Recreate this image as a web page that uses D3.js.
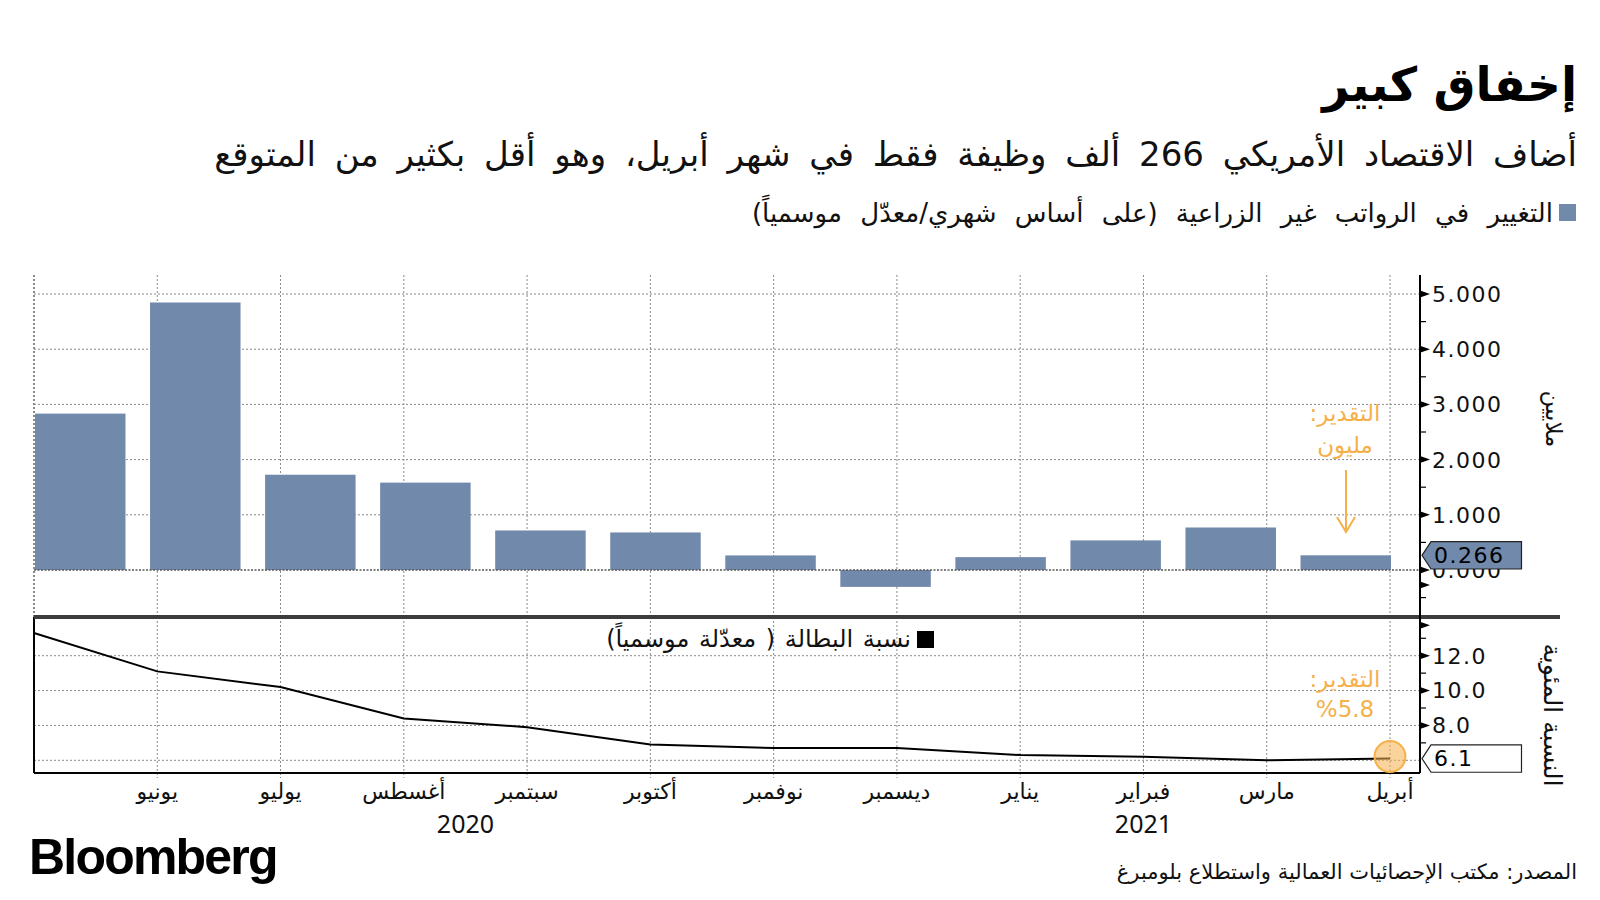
<!DOCTYPE html>
<html><head><meta charset="utf-8">
<script src="https://cdn.jsdelivr.net/npm/d3@7"></script>
<style>
body{margin:0;background:#fff}
svg{display:block}
.ar{font-family:"DejaVu Sans",sans-serif;direction:rtl;unicode-bidi:embed}
.num{font-family:"DejaVu Sans",sans-serif}
</style>
</head><body>
<svg id="c" width="1600" height="900"></svg>
<script>
// ---- data ----
const months = ["مايو","يونيو","يوليو","أغسطس","سبتمبر","أكتوبر","نوفمبر","ديسمبر","يناير","فبراير","مارس","أبريل"];
const monthLabels = ["","يونيو","يوليو","أغسطس","سبتمبر","أكتوبر","نوفمبر","ديسمبر","يناير","فبراير","مارس","أبريل"];
const payrolls = [2833, 4846, 1726, 1583, 716, 680, 264, -306, 233, 536, 770, 266]; // thousands
const unemployment = [13.3, 11.1, 10.2, 8.4, 7.9, 6.9, 6.7, 6.7, 6.3, 6.2, 6.0, 6.1];
const payrollTicks = [0, 1000, 2000, 3000, 4000, 5000];
const payrollMinorTicks = [-500, 500, 1500, 2500, 3500, 4500];
const payrollExtraMarks = [-270];
const rateTicks = [6, 8, 10, 12];
const rateMinorTicks = [7, 9, 11, 13];
const rateExtraMarks = [13.75];
const yearLabels = ["2020", "2021"];
const yearPositions = [3.5, 9];
const lastPayroll = 0.266;
const lastRate = 6.1;

const svg = d3.select("#c");
const left = 34, right = 1420;
const topY = 275, sepY = 617, botY = 773;

// scales
const xPt = d3.scalePoint().domain(months).range([34, 1390]);
const xIdx = d3.scaleLinear().domain([0, 11]).range([34, 1390]);
const xBand = d3.scaleBand().domain(months).range([35, 1391]).paddingInner(0.2135).paddingOuter(0);
const yTop = d3.scaleLinear().domain([0, 5000]).range([570, 294]);
const yBot = d3.scaleLinear().domain([6, 12]).range([760.3, 655.7]);

const orange = "#f5b04a";
const barColor = "#7189ab";

// ---- titles ----
svg.append("text").attr("class","ar").attr("x",1577).attr("y",101)
  .attr("text-anchor","start").attr("font-size",47).attr("font-weight","bold").attr("fill","#000")
  .text("إخفاق كبير");
svg.append("text").attr("class","ar").attr("x",1577).attr("y",166)
  .attr("text-anchor","start").attr("font-size",34).attr("word-spacing",8).attr("fill","#111")
  .text("أضاف الاقتصاد الأمريكي 266 ألف وظيفة فقط في شهر أبريل، وهو أقل بكثير من المتوقع");
svg.append("rect").attr("x",1559).attr("y",204).attr("width",17).attr("height",17).attr("fill",barColor);
svg.append("text").attr("class","ar").attr("x",1553).attr("y",222)
  .attr("text-anchor","start").attr("font-size",26).attr("word-spacing",10).attr("fill","#111")
  .text("التغيير في الرواتب غير الزراعية (على أساس شهري/معدّل موسمياً)");

// ---- gridlines ----
const grid = svg.append("g").attr("stroke","#8a8a8a").attr("stroke-width",1).attr("stroke-dasharray","2,2").attr("fill","none");
grid.selectAll("line.vt").data(months.slice(1)).join("line").attr("class","vt")
  .attr("x1",d=>xPt(d)).attr("x2",d=>xPt(d)).attr("y1",topY).attr("y2",sepY);
grid.selectAll("line.vb").data(months.slice(1)).join("line").attr("class","vb")
  .attr("x1",d=>xPt(d)).attr("x2",d=>xPt(d)).attr("y1",sepY).attr("y2",botY+5);
grid.selectAll("line.ht").data(payrollTicks.filter(d=>d!==0)).join("line").attr("class","ht")
  .attr("x1",left).attr("x2",right).attr("y1",d=>yTop(d)).attr("y2",d=>yTop(d));
grid.selectAll("line.hb").data(rateTicks).join("line").attr("class","hb")
  .attr("x1",left).attr("x2",right).attr("y1",d=>yBot(d)).attr("y2",d=>yBot(d));
svg.append("line").attr("x1",left).attr("x2",left).attr("y1",topY).attr("y2",sepY)
  .attr("stroke","#8a8a8a").attr("stroke-width",2).attr("stroke-dasharray","2,2");

// ---- bars ----
svg.append("g").selectAll("rect").data(payrolls).join("rect")
  .attr("x",(d,i)=>xBand(months[i])).attr("width",xBand.bandwidth())
  .attr("y",d=>yTop(Math.max(0,d))).attr("height",d=>Math.abs(yTop(d)-yTop(0)))
  .attr("fill",barColor);
svg.append("line").attr("x1",left).attr("x2",right).attr("y1",yTop(0)).attr("y2",yTop(0))
  .attr("stroke","#555").attr("stroke-width",1.6).attr("stroke-dasharray","2,1.5");

// ---- line ----
svg.append("path").datum(unemployment)
  .attr("d", d3.line().x((d,i)=>xIdx(i)).y(d=>yBot(d)))
  .attr("fill","none").attr("stroke","#000").attr("stroke-width",2);

// frames
svg.append("line").attr("x1",left).attr("x2",left).attr("y1",sepY).attr("y2",botY).attr("stroke","#000").attr("stroke-width",2);
svg.append("line").attr("x1",left).attr("x2",right).attr("y1",botY).attr("y2",botY).attr("stroke","#000").attr("stroke-width",2);
svg.append("line").attr("x1",left).attr("x2",1560).attr("y1",sepY).attr("y2",sepY).attr("stroke","#3c3c3c").attr("stroke-width",4);
svg.append("line").attr("x1",right).attr("x2",right).attr("y1",topY).attr("y2",botY).attr("stroke","#000").attr("stroke-width",2);

// ticks
function arrowTick(g, y){
  g.append("path").attr("d",`M${right},${y-3.5}L${right+10},${y}L${right},${y+3.5}Z`).attr("fill","#000");
}
function minorTick(g, y){
  g.append("line").attr("x1",right).attr("x2",right+6).attr("y1",y).attr("y2",y).attr("stroke","#000").attr("stroke-width",1.2);
}
const tg = svg.append("g");
payrollTicks.concat(payrollExtraMarks).forEach(v=>arrowTick(tg, yTop(v)));
payrollMinorTicks.forEach(v=>minorTick(tg, yTop(v)));
rateTicks.filter(v=>v!==6).concat(rateExtraMarks).forEach(v=>arrowTick(tg, yBot(v)));
rateMinorTicks.forEach(v=>minorTick(tg, yBot(v)));

const fmtK = v => d3.format(".3f")(v/1000);
tg.selectAll("text.tl").data(payrollTicks).join("text").attr("class","num tl")
  .attr("x",1432).attr("y",d=>yTop(d)).attr("dy","0.36em").attr("font-size",22).attr("letter-spacing",1.5)
  .attr("fill","#111").text(fmtK);
tg.selectAll("text.bl").data(rateTicks).join("text").attr("class","num bl")
  .attr("x",1432).attr("y",d=>yBot(d)).attr("dy","0.36em").attr("font-size",22).attr("letter-spacing",1.5)
  .attr("fill","#111").text(d=>d3.format(".1f")(d));

// value boxes
function valueBox(y, fill, label){
  const h = 13.7;
  svg.append("path").attr("d",`M1422,${y}L1431,${y-h}L1521.5,${y-h}L1521.5,${y+h}L1431,${y+h}Z`)
    .attr("fill",fill).attr("stroke","#222").attr("stroke-width",1.2);
  svg.append("text").attr("class","num").attr("x",1434).attr("y",y).attr("dy","0.36em")
    .attr("font-size",22).attr("letter-spacing",1.5).attr("fill","#000").text(label);
}
valueBox(yTop(lastPayroll*1000), barColor, d3.format(".3f")(lastPayroll));
valueBox(yBot(lastRate), "#fff", d3.format(".1f")(lastRate));

// axis titles
svg.append("text").attr("class","ar").attr("transform",`translate(1546,419) rotate(90)`)
  .attr("text-anchor","middle").attr("font-size",23).attr("fill","#111").text("ملايين");
svg.append("text").attr("class","ar").attr("transform",`translate(1544,715) rotate(90)`)
  .attr("text-anchor","middle").attr("font-size",25).attr("fill","#111").text("النسبة المئوية");

// bottom legend
svg.append("rect").attr("x",917).attr("y",631).attr("width",17).attr("height",17).attr("fill","#000");
svg.append("text").attr("class","ar").attr("x",911).attr("y",647).attr("text-anchor","start")
  .attr("font-size",24).attr("word-spacing",2).attr("fill","#111").text("نسبة البطالة ( معدّلة موسمياً)");

// annotations
svg.append("text").attr("class","ar").attr("x",1345).attr("y",421).attr("text-anchor","middle")
  .attr("font-size",23).attr("fill",orange).text("التقدير:");
svg.append("text").attr("class","ar").attr("x",1345).attr("y",453).attr("text-anchor","middle")
  .attr("font-size",23).attr("fill",orange).text("مليون");
svg.append("line").attr("x1",1346).attr("x2",1346).attr("y1",470).attr("y2",532).attr("stroke",orange).attr("stroke-width",2);
svg.append("path").attr("d","M1337,517L1346,532L1355,517").attr("fill","none").attr("stroke",orange).attr("stroke-width",2);

svg.append("text").attr("class","ar").attr("x",1345).attr("y",687).attr("text-anchor","middle")
  .attr("font-size",23).attr("fill",orange).text("التقدير:");
svg.append("text").attr("class","ar").attr("x",1345).attr("y",717).attr("text-anchor","middle")
  .attr("font-size",23).attr("fill",orange).text("%5.8");
svg.append("circle").attr("cx",xIdx(11)).attr("cy",yBot(lastRate)-2).attr("r",15.5)
  .attr("fill",orange).attr("fill-opacity",0.55).attr("stroke",orange).attr("stroke-width",2);

// x labels
svg.append("g").selectAll("text").data(monthLabels).join("text").attr("class","ar")
  .attr("x",(d,i)=>xIdx(i)).attr("y",799).attr("text-anchor","middle").attr("font-size",22).attr("fill","#111")
  .text(d=>d);
svg.append("g").selectAll("text").data(yearLabels).join("text")
  .attr("x",(d,i)=>xIdx(yearPositions[i])).attr("y",833).attr("text-anchor","middle")
  .attr("font-family","Noto Sans, sans-serif").attr("font-size",25).attr("fill","#111").text(d=>d);

// footer
svg.append("text").attr("x",29).attr("y",874).attr("font-family","Liberation Sans, Arial, sans-serif")
  .attr("font-weight","bold").attr("font-size",50).attr("letter-spacing",-1.8).attr("fill","#000").text("Bloomberg");
svg.append("text").attr("class","ar").attr("x",1577).attr("y",879).attr("text-anchor","start")
  .attr("font-size",21).attr("fill","#111").text("المصدر: مكتب الإحصائيات العمالية واستطلاع بلومبرغ");
</script>
</body></html>
